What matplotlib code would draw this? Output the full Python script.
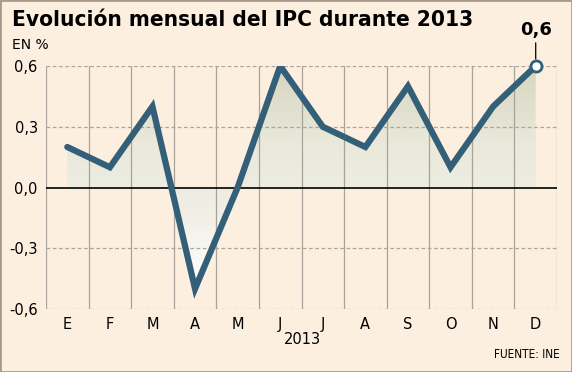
import numpy as np
import matplotlib.pyplot as plt
from matplotlib.colors import LinearSegmentedColormap

# datos IPC mensual 2013 (en %)
months = ['E', 'F', 'M', 'A', 'M', 'J', 'J', 'A', 'S', 'O', 'N', 'D']
ipc = [0.2, 0.1, 0.4, -0.5, 0.0, 0.6, 0.3, 0.2, 0.5, 0.1, 0.4, 0.6]
yticks = [-0.6, -0.3, 0.0, 0.3, 0.6]
ytick_labels = ['-0,6', '-0,3', '0,0', '0,3', '0,6']

bg = '#fcefdf'
line_col = '#345f78'

fig = plt.figure(figsize=(5.72, 3.72), dpi=100, facecolor=bg)
ax = fig.add_axes([46/572, (372-309)/372, (557-46)/572, (309-66)/372])
ax.set_facecolor(bg)

x = np.arange(len(months))
ax.set_xlim(-0.5, len(months) - 0.5)
ax.set_ylim(-0.6, 0.6)

# fondo degradado recortado por el area bajo la linea
fill = ax.fill_between(x, ipc, 0, color='none', lw=0)
cmap = LinearSegmentedColormap.from_list('g', ['#ffffff', '#f1efe6', '#e9e8da', '#d6d6c0'])
grad = np.linspace(0, 1, 256).reshape(-1, 1)
img = ax.imshow(grad, cmap=cmap, aspect='auto', origin='lower',
                extent=[-0.5, len(months) - 0.5, -0.5, 0.6], zorder=1)
img.set_clip_path(fill.get_paths()[0], transform=ax.transData)

# rejilla
for b in np.arange(-0.5, len(months), 1.0):
    ax.axvline(b, color='#a8a29a', lw=0.9, zorder=2)
for v in yticks:
    if v == 0:
        ax.axhline(0, color='black', lw=1.2, zorder=3)
    else:
        ax.axhline(v, color='#aaa59e', lw=0.9, ls=(0, (3, 2)), zorder=2)

ax.plot(x, ipc, color=line_col, lw=4.5, solid_joinstyle='miter', solid_capstyle='round', zorder=4)
ax.plot(x[-1], ipc[-1], 'o', ms=8, mfc='white', mec=line_col, mew=2, zorder=5, clip_on=False)

for s in ax.spines.values():
    s.set_visible(False)
ax.tick_params(length=0, labelsize=10.5, pad=6)
ax.set_xticks(x)
ax.set_xticklabels(months)
ax.set_yticks(yticks)
ax.set_yticklabels(ytick_labels)

# textos
fig.text(12/572, 1 - 20/372, 'Evolución mensual del IPC durante 2013', fontsize=16.2,
         fontweight='bold', fontstretch='condensed', va='center', ha='left')
fig.text(12/572, 1 - 45/372, 'EN %', fontsize=10, va='center', ha='left')
fig.text(302/572, 1 - 339/372, '2013', fontsize=10.5, va='center', ha='center')
fig.text(560/572, 1 - 355/372, 'FUENTE: INE', fontsize=8.5, fontstretch='condensed',
         va='center', ha='right')
ax.annotate('0,6', xy=(x[-1], ipc[-1]), xytext=(x[-1], 0.735), ha='center', va='bottom',
            fontsize=13, fontweight='bold',
            arrowprops=dict(arrowstyle='-', color='black', lw=0.9, shrinkA=1, shrinkB=5))

# marco
fig.patches.append(plt.Rectangle((0, 0), 1, 1, transform=fig.transFigure, fill=False,
                                 ec='#a89a8c', lw=2))

fig.savefig('out.png', dpi=100, facecolor=bg)
